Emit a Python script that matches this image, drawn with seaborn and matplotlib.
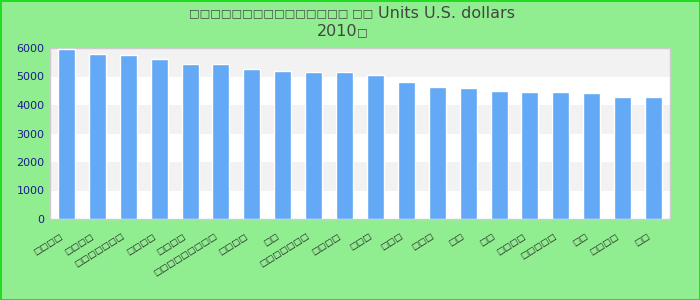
import matplotlib
matplotlib.use("Agg")
import matplotlib.pyplot as plt
import matplotlib.transforms as mtransforms
import seaborn as sns
import pandas as pd

B = "\u25a1"
label_lengths = [4, 4, 7, 4, 4, 9, 4, 2, 7, 4, 3, 3, 3, 2, 2, 4, 5, 2, 4, 2]
categories = [B * n for n in label_lengths]
values = [5975, 5800, 5765, 5625, 5450, 5450, 5275, 5200, 5165, 5165,
          5060, 4810, 4630, 4600, 4490, 4455, 4455, 4420, 4280, 4280]
title_cjk = B * 15 + " " + B * 2
title_latin = "Units U.S. dollars"
title_year = "2010"
title_year_suffix = B
yticks = [0, 1000, 2000, 3000, 4000, 5000, 6000]

sns.set_style("white")
plt.rcParams['font.family'] = ['DejaVu Sans']

fig = plt.figure(figsize=(7, 3), dpi=100)
fig.patch.set_facecolor("#90EE90")
fig.patch.set_edgecolor("#22DD22")
fig.patch.set_linewidth(2)
ax = fig.add_axes([50/700, 1 - 219/300, 620/700, (219-48)/300])
ax.set_facecolor("white")

df = pd.DataFrame({"idx": list(range(len(values))), "value": values})
sns.barplot(data=df, x="idx", y="value", color="#63A9F5", saturation=1,
            width=0.55, ax=ax, zorder=3)

for lo in (1000, 3000, 5000):
    ax.axhspan(lo, lo + 1000, color="#F2F2F2", zorder=0, lw=0)

ax.set_ylim(0, 6000)
ax.set_xlim(-0.53, len(values) - 0.47)
ax.set_yticks(yticks)
ax.set_yticklabels([str(v) for v in yticks], color="#1C1C8C", fontsize=8)
ax.set_xticks(range(len(values)))
ax.set_xticklabels(categories, rotation=32, ha="right", rotation_mode="anchor",
                   fontsize=6.2, color="#222222")
ax.tick_params(axis="x", length=0, pad=9)
ax.tick_params(axis="y", length=0, pad=4)
offset = mtransforms.ScaledTranslation(-7/100, 0, fig.dpi_scale_trans)
for lbl in ax.get_xticklabels():
    lbl.set_transform(lbl.get_transform() + offset)
ax.set_xlabel("")
ax.set_ylabel("")
for s in ax.spines.values():
    s.set_color("#CCCCCC")
    s.set_linewidth(1)

y1 = 1 - 13/300
y2 = 1 - 32/300
fig.text(373/700, y1, title_cjk, ha="right", va="center",
         fontsize=8.1, color="#444444")
fig.text(378/700, y1, title_latin, ha="left", va="center",
         fontsize=11.5, color="#444444")
fig.text(357/700, y2, title_year, ha="right", va="center",
         fontsize=11.5, color="#444444")
fig.text(357/700, y2, title_year_suffix, ha="left", va="center",
         fontsize=8.1, color="#444444")

fig.savefig("out.png", dpi=100, facecolor=fig.get_facecolor(),
            edgecolor=fig.get_edgecolor())
